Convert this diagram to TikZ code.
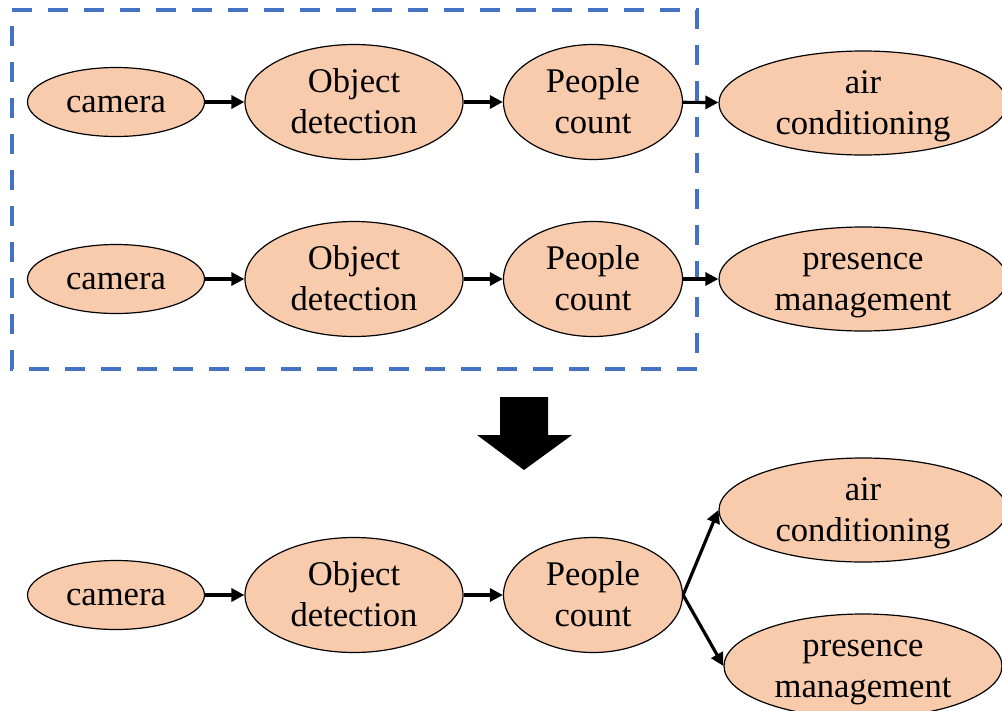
\documentclass[tikz,border=0pt]{standalone}
\usepackage{fontspec}
\setmainfont{Liberation Serif}
\usetikzlibrary{shapes.geometric,arrows.meta}
\definecolor{peach}{HTML}{F8CBAD}
\definecolor{boxblue}{HTML}{4472C4}
\begin{document}
\begin{tikzpicture}[x=1pt,y=-1pt,
  ell/.style={ellipse, draw=black, line width=1.2pt, fill=peach, inner sep=0pt},
  cam/.style={ell, minimum width=177pt, minimum height=69pt},
  od/.style={ell, minimum width=218pt, minimum height=115pt},
  pc/.style={ell, minimum width=179pt, minimum height=115pt},
  sink/.style={ell, minimum width=288pt, minimum height=104pt},
  txt/.style={inner sep=0pt, align=center, font=\fontsize{34.6}{40.5}\selectfont, yshift=-2.8pt},
  conn/.style={line width=3.2pt, -{Triangle[length=13pt,width=13pt]}},
  grp/.style={draw=boxblue, line width=4pt, dash pattern=on 20pt off 16pt}
]
\useasboundingbox (0,0) rectangle (1002,710);
% dashed group
\draw[grp] (12,10) -- (697,10) -- (697,369) -- (12,369) -- cycle;
% row 1
\node[cam] (cam1) at (116,102) {};
\node[od]  (od1)  at (354,102) {};
\node[pc]  (pc1)  at (593,102) {};
\node[sink] (ac1)  at (863,103) {};
% row 2
\node[cam] (cam2) at (116,279) {};
\node[od]  (od2)  at (354,279) {};
\node[pc]  (pc2)  at (593,279) {};
\node[sink] (pm2)  at (863,279) {};
% row 3
\node[cam] (cam3) at (116,595) {};
\node[od]  (od3)  at (354,595) {};
\node[pc]  (pc3)  at (593,595) {};
\node[sink] (ac3)  at (863,510) {};
\node[sink, minimum width=278pt] (pm3)  at (863,666) {};
% texts
\node[txt] (cam1t) at (cam1) {\strut camera};
\node[txt] (od1t)  at (od1)  {\strut Object\\\strut detection};
\node[txt] (pc1t)  at (pc1)  {\strut People\\\strut count};
\node[txt] (ac1t)  at (ac1)  {\strut air\\\strut conditioning};
\node[txt] (cam2t) at (cam2) {\strut camera};
\node[txt] (od2t)  at (od2)  {\strut Object\\\strut detection};
\node[txt] (pc2t)  at (pc2)  {\strut People\\\strut count};
\node[txt] (pm2t)  at (pm2)  {\strut presence\\\strut management};
\node[txt] (cam3t) at (cam3) {\strut camera};
\node[txt] (od3t)  at (od3)  {\strut Object\\\strut detection};
\node[txt] (pc3t)  at (pc3)  {\strut People\\\strut count};
\node[txt] (ac3t)  at (ac3)  {\strut air\\\strut conditioning};
\node[txt] (pm3t)  at (pm3)  {\strut presence\\\strut management};
% connectors
\draw[conn] (cam1) -- (od1);
\draw[conn] (od1) -- (pc1);
\draw[conn] (pc1) -- (ac1);
\draw[conn] (cam2) -- (od2);
\draw[conn] (od2) -- (pc2);
\draw[conn] (pc2) -- (pm2);
\draw[conn] (cam3) -- (od3);
\draw[conn] (od3) -- (pc3);
\draw[conn] (pc3.east) -- (ac3.west);
\draw[conn] (pc3.east) -- (pm3.west);
% big down arrow
\fill[black] (500,397) -- (548,397) -- (548,435) -- (572,435) -- (524,470) -- (477,435) -- (500,435) -- cycle;
\end{tikzpicture}
\end{document}
